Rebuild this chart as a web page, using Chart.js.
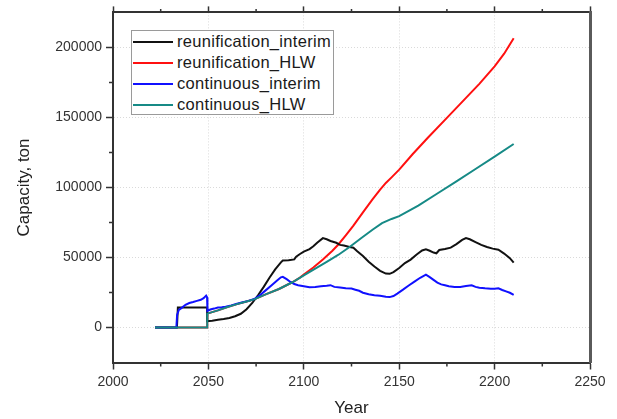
<!DOCTYPE html>
<html>
<head>
<meta charset="utf-8">
<script src="https://cdn.jsdelivr.net/npm/chart.js@4/dist/chart.umd.min.js"></script>
<style>
  html, body { margin: 0; padding: 0; background: #ffffff; }
  #wrap { position: relative; width: 617px; height: 419px; }
  #legend { position: absolute; left: 131px; top: 30px; width: 201px; height: 83px;
            border: 1px solid #9a9a9a; background: #ffffff; box-sizing: content-box;
            font-family: "Liberation Sans", Arial, sans-serif; font-size: 16.5px; letter-spacing: 0.3px; color: #1a1a1a; }
  .row { position: relative; height: 21px; line-height: 21px; white-space: nowrap; }
  .row .ln { position: absolute; left: 1px; top: 10px; width: 40px; height: 2px; }
  .row .tx { position: absolute; left: 45px; top: 0; }
</style>
</head>
<body>
<div id="wrap">
  <canvas id="c" width="617" height="419"></canvas>
  <div id="legend"></div>
</div>
<script>
// ---- data ----
const seriesNames = ['reunification_interim', 'reunification_HLW', 'continuous_interim', 'continuous_HLW'];
const seriesColors = ['#111111', '#ff1010', '#1010ff', '#168a86'];

const riYears = [2022, 2033.5, 2034, 2049.3, 2049.4, 2052, 2055, 2058, 2061, 2064, 2067, 2070, 2073, 2076, 2079, 2082, 2085, 2088, 2089, 2092, 2095, 2096, 2098, 2100, 2103, 2105, 2107, 2110, 2112, 2114, 2117, 2119, 2121, 2124, 2126, 2128, 2131, 2134, 2137, 2140, 2143, 2145, 2147, 2150, 2153, 2156, 2159, 2162, 2164, 2166, 2168, 2169.5, 2171, 2174, 2177, 2180, 2183, 2185, 2187, 2190, 2193, 2196, 2199, 2202, 2205, 2208, 2210];
const riValues = [0, 0, 14200, 14200, 4500, 4800, 5600, 6000, 6800, 8000, 9800, 13000, 17500, 23000, 29000, 35500, 41500, 46500, 47800, 48000, 48600, 50500, 52500, 54200, 56000, 58000, 60500, 63800, 63000, 61800, 60500, 59000, 58500, 57500, 57000, 54500, 51000, 47000, 43500, 40500, 38500, 38300, 39500, 42500, 46000, 48500, 52000, 55000, 55800, 54800, 53500, 53000, 55300, 56000, 57000, 59500, 62500, 63800, 63000, 61000, 59000, 57500, 56300, 55500, 52800, 49500, 46300];

const rhYears = [2022, 2049.3, 2049.4, 2055, 2060, 2065, 2070, 2074, 2080, 2087, 2094, 2098, 2100, 2105, 2110, 2115, 2118, 2122, 2126, 2131, 2136, 2140, 2143, 2146, 2150, 2157, 2165, 2175, 2185, 2192, 2200, 2205, 2210];
const rhValues = [0, 0, 9900, 12200, 14600, 16700, 18500, 20100, 23600, 27500, 32300, 35600, 37800, 42800, 48500, 54800, 59100, 65800, 72700, 82200, 91500, 98500, 103200, 107200, 112700, 123700, 135500, 149700, 164000, 174000, 186500, 195500, 206500];

const ciYears = [2022, 2033.2, 2033.6, 2034.5, 2036, 2038, 2040, 2042, 2044, 2046, 2047.5, 2048.8, 2049.3, 2049.5, 2051, 2053, 2055, 2057, 2059, 2062, 2065, 2068, 2071, 2074, 2077, 2080, 2083, 2086, 2088, 2089, 2091, 2093, 2095, 2097, 2100, 2103, 2106, 2109, 2112, 2114, 2116, 2119, 2122, 2125, 2127, 2129, 2131, 2134, 2137, 2140, 2143, 2145, 2147, 2149, 2152, 2155, 2158, 2161, 2164, 2166, 2168, 2170, 2172, 2174, 2176, 2179, 2182, 2185, 2188, 2190, 2192, 2195, 2198, 2200, 2202, 2204, 2206, 2208, 2210];
const ciValues = [0, 0, 9000, 12500, 14000, 16200, 17500, 18200, 19000, 19800, 21000, 22800, 21500, 11800, 12800, 13500, 14300, 14500, 14800, 15800, 16900, 18000, 19000, 20300, 23000, 26500, 30000, 33500, 35800, 36200, 34500, 32500, 31000, 30200, 29500, 28800, 29000, 29400, 29800, 30200, 29000, 28500, 28000, 27800, 27000, 26200, 24800, 23700, 23000, 22600, 21900, 21700, 22500, 24200, 27000, 30000, 32800, 35500, 37800, 36000, 34000, 32000, 30800, 30200, 29500, 28900, 29000, 29600, 30100, 29000, 28400, 28000, 27700, 27600, 28000, 26800, 25800, 24800, 23300];

const chYears = [2022, 2049.3, 2049.4, 2055, 2060, 2065, 2070, 2074, 2080, 2087, 2094, 2100, 2106, 2112, 2118, 2124, 2130, 2136, 2141, 2146, 2150, 2155, 2160, 2170, 2180, 2190, 2200, 2210];
const chValues = [0, 0, 9900, 12200, 14600, 16700, 18500, 20100, 23600, 27500, 32300, 37200, 42000, 46800, 51800, 57500, 63700, 69800, 74500, 77500, 79500, 83200, 87000, 95700, 104300, 113200, 122000, 131000];

const xMajorTicks = [2000, 2050, 2100, 2150, 2200, 2250];
const xMinorTicks = [2025, 2075, 2125, 2175, 2225];
const yMajorTicks = [0, 50000, 100000, 150000, 200000];
const yMinorTicks = [25000, 75000, 125000, 175000];
const xTitle = 'Year';
const yTitle = 'Capacity, ton';
// -------------------------------------------------

const allYears = [riYears, rhYears, ciYears, chYears];
const allValues = [riValues, rhValues, ciValues, chValues];
const drawOrder = [2, 3, 1, 0];

const datasets = seriesNames.map((name, k) => ({
  label: name,
  data: allYears[k].map((yr, i) => ({ x: yr, y: allValues[k][i] })),
  borderColor: seriesColors[k],
  backgroundColor: seriesColors[k],
  borderWidth: 2,
  pointRadius: 0,
  tension: 0,
  fill: false,
  order: drawOrder[k]
}));

const FONT = '"Liberation Sans", Arial, sans-serif';
const AX = '#333333';

const minorTicksPlugin = {
  id: 'minorTicks',
  afterDraw(chart) {
    const { ctx, chartArea: a, scales } = chart;
    const x = scales.x, y = scales.y;
    ctx.save();
    ctx.strokeStyle = AX;
    ctx.lineWidth = 1.5;
    ctx.beginPath();
    xMinorTicks.forEach(v => {
      const px = x.getPixelForValue(v);
      ctx.moveTo(px, a.bottom); ctx.lineTo(px, a.bottom + 4);
      ctx.moveTo(px, a.top); ctx.lineTo(px, a.top - 3.5);
    });
    yMinorTicks.forEach(v => {
      const py = y.getPixelForValue(v);
      ctx.moveTo(a.left - 4, py); ctx.lineTo(a.left, py);
    });
    ctx.stroke();
    ctx.restore();
  }
};

const chart = new Chart(document.getElementById('c'), {
  type: 'line',
  data: { datasets },
  plugins: [minorTicksPlugin],
  options: {
    responsive: false,
    devicePixelRatio: 1,
    animation: false,
    layout: { padding: 0 },
    plugins: { legend: { display: false }, tooltip: { enabled: false } },
    scales: {
      x: {
        type: 'linear', position: 'bottom', min: 2000, max: 2250,
        afterBuildTicks: s => { s.ticks = xMajorTicks.map(v => ({ value: v })); },
        ticks: { color: AX, padding: 4, maxRotation: 0, font: { family: FONT, size: 14 }, callback: v => String(v) },
        grid: { color: '#dadada', lineWidth: 1, tickLength: 7, tickColor: AX, tickWidth: 1.5, tickBorderDash: [100, 0] },
        border: { color: AX, width: 2, dash: [1, 2] },
        title: { display: true, text: xTitle, color: '#222', font: { family: FONT, size: 17 }, padding: { top: 0, bottom: 0 } },
        afterFit: s => { s.height = 56.5; }
      },
      x2: {
        type: 'linear', position: 'top', min: 2000, max: 2250,
        afterBuildTicks: s => { s.ticks = xMajorTicks.map(v => ({ value: v })); },
        ticks: { display: false },
        grid: { drawOnChartArea: false, tickLength: 6, tickColor: AX, tickWidth: 1.5, color: AX },
        border: { color: AX, width: 2 },
        afterFit: s => { s.height = 11; }
      },
      y: {
        type: 'linear', position: 'left', min: -25000, max: 225000,
        afterBuildTicks: s => { s.ticks = yMajorTicks.map(v => ({ value: v })); },
        ticks: { color: AX, padding: 4, font: { family: FONT, size: 14 }, callback: v => String(v) },
        grid: { color: '#dadada', lineWidth: 1, tickLength: 7, tickColor: AX, tickWidth: 1.5, tickBorderDash: [100, 0] },
        border: { color: AX, width: 2, dash: [1, 2] },
        title: { display: true, text: yTitle, color: '#222', font: { family: FONT, size: 17 }, padding: { top: 14, bottom: 0 } },
        afterFit: s => { s.width = 113; }
      },
      y2: {
        type: 'linear', position: 'right', min: -25000, max: 225000,
        ticks: { display: false },
        grid: { display: false },
        border: { color: '#5a5a5a', width: 3 },
        afterFit: s => { s.width = 27; }
      }
    }
  }
});

// HTML legend built from the chart's datasets
const legendEl = document.getElementById('legend');
chart.data.datasets.forEach(ds => {
  const row = document.createElement('div');
  row.className = 'row';
  const ln = document.createElement('span');
  ln.className = 'ln';
  ln.style.background = ds.borderColor;
  const tx = document.createElement('span');
  tx.className = 'tx';
  tx.textContent = ds.label;
  row.appendChild(ln); row.appendChild(tx);
  legendEl.appendChild(row);
});
</script>
</body>
</html>
